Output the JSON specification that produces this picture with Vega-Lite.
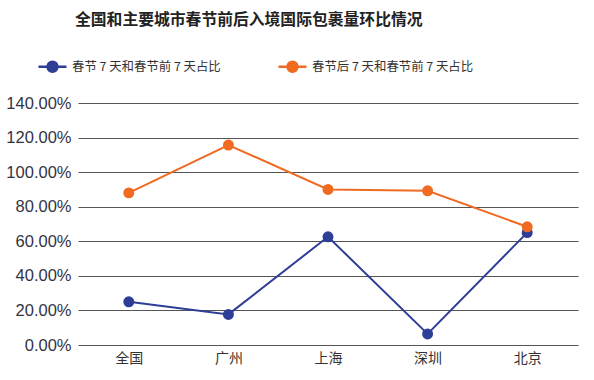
{
  "$schema": "https://vega.github.io/schema/vega-lite/v6.json",
  "autosize": "none",
  "width": 500,
  "height": 242,
  "padding": {"left": 78, "top": 103, "right": 16, "bottom": 35},
  "background": "white",
  "title": {
    "text": "全国和主要城市春节前后入境国际包裹量环比情况",
    "anchor": "start",
    "frame": "group",
    "dx": -3,
    "offset": 22,
    "fontSize": 15.8,
    "fontWeight": "bold",
    "font": "Noto Sans CJK SC",
    "color": "#222222"
  },
  "config": {
    "view": {"stroke": null},
    "font": "Noto Sans CJK SC"
  },
  "data": {
    "values": [
      {"city": "全国", "series": "春节 7 天和春节前 7 天占比", "v": 0.25},
      {"city": "广州", "series": "春节 7 天和春节前 7 天占比", "v": 0.177},
      {"city": "上海", "series": "春节 7 天和春节前 7 天占比", "v": 0.626},
      {"city": "深圳", "series": "春节 7 天和春节前 7 天占比", "v": 0.064},
      {"city": "北京", "series": "春节 7 天和春节前 7 天占比", "v": 0.65},
      {"city": "全国", "series": "春节后 7 天和春节前 7 天占比", "v": 0.88},
      {"city": "广州", "series": "春节后 7 天和春节前 7 天占比", "v": 1.157},
      {"city": "上海", "series": "春节后 7 天和春节前 7 天占比", "v": 0.90},
      {"city": "深圳", "series": "春节后 7 天和春节前 7 天占比", "v": 0.892},
      {"city": "北京", "series": "春节后 7 天和春节前 7 天占比", "v": 0.684}
    ]
  },
  "mark": {"type": "line", "strokeWidth": 2, "point": {"filled": true, "size": 120, "opacity": 1}},
  "encoding": {
    "x": {
      "field": "city",
      "type": "nominal",
      "sort": ["全国", "广州", "上海", "深圳", "北京"],
      "scale": {"type": "point", "padding": 0.51},
      "axis": {
        "title": null,
        "labelAngle": 0,
        "ticks": false,
        "domain": false,
        "labelFontSize": 14,
        "labelColor": "#333333",
        "labelPadding": 6
      }
    },
    "y": {
      "field": "v",
      "type": "quantitative",
      "scale": {"domain": [0, 1.4], "nice": false},
      "axis": {
        "title": null,
        "values": [0, 0.2, 0.4, 0.6, 0.8, 1.0, 1.2, 1.4],
        "format": ".2%",
        "domain": false,
        "ticks": false,
        "labelFontSize": 16.5,
        "labelFont": "Liberation Sans",
        "labelColor": "#333344",
        "labelPadding": 7,
        "gridColor": "#555555",
        "gridWidth": 1.1
      }
    },
    "color": {
      "field": "series",
      "type": "nominal",
      "sort": ["春节 7 天和春节前 7 天占比", "春节后 7 天和春节前 7 天占比"],
      "scale": {"range": ["#2E3D96", "#F06A22"]},
      "legend": {
        "title": null,
        "orient": "none",
        "legendX": -41,
        "legendY": -52,
        "direction": "horizontal",
        "columnPadding": 52,
        "labelFontSize": 12.4,
        "labelLimit": 300,
        "labelColor": "#333333",
        "symbolType": "M-1,0H1M-0.357,0A0.357,0.357,0,1,0,0.357,0A0.357,0.357,0,1,0,-0.357,0",
        "symbolSize": 784,
        "symbolStrokeWidth": 2.5,
        "labelOffset": 4,
        "encode": {
          "symbols": {
            "update": {
              "fill": {"scale": "color", "field": "value"},
              "stroke": {"scale": "color", "field": "value"},
              "opacity": {"value": 1},
              "fillOpacity": {"value": 1}
            }
          }
        }
      }
    }
  }
}
